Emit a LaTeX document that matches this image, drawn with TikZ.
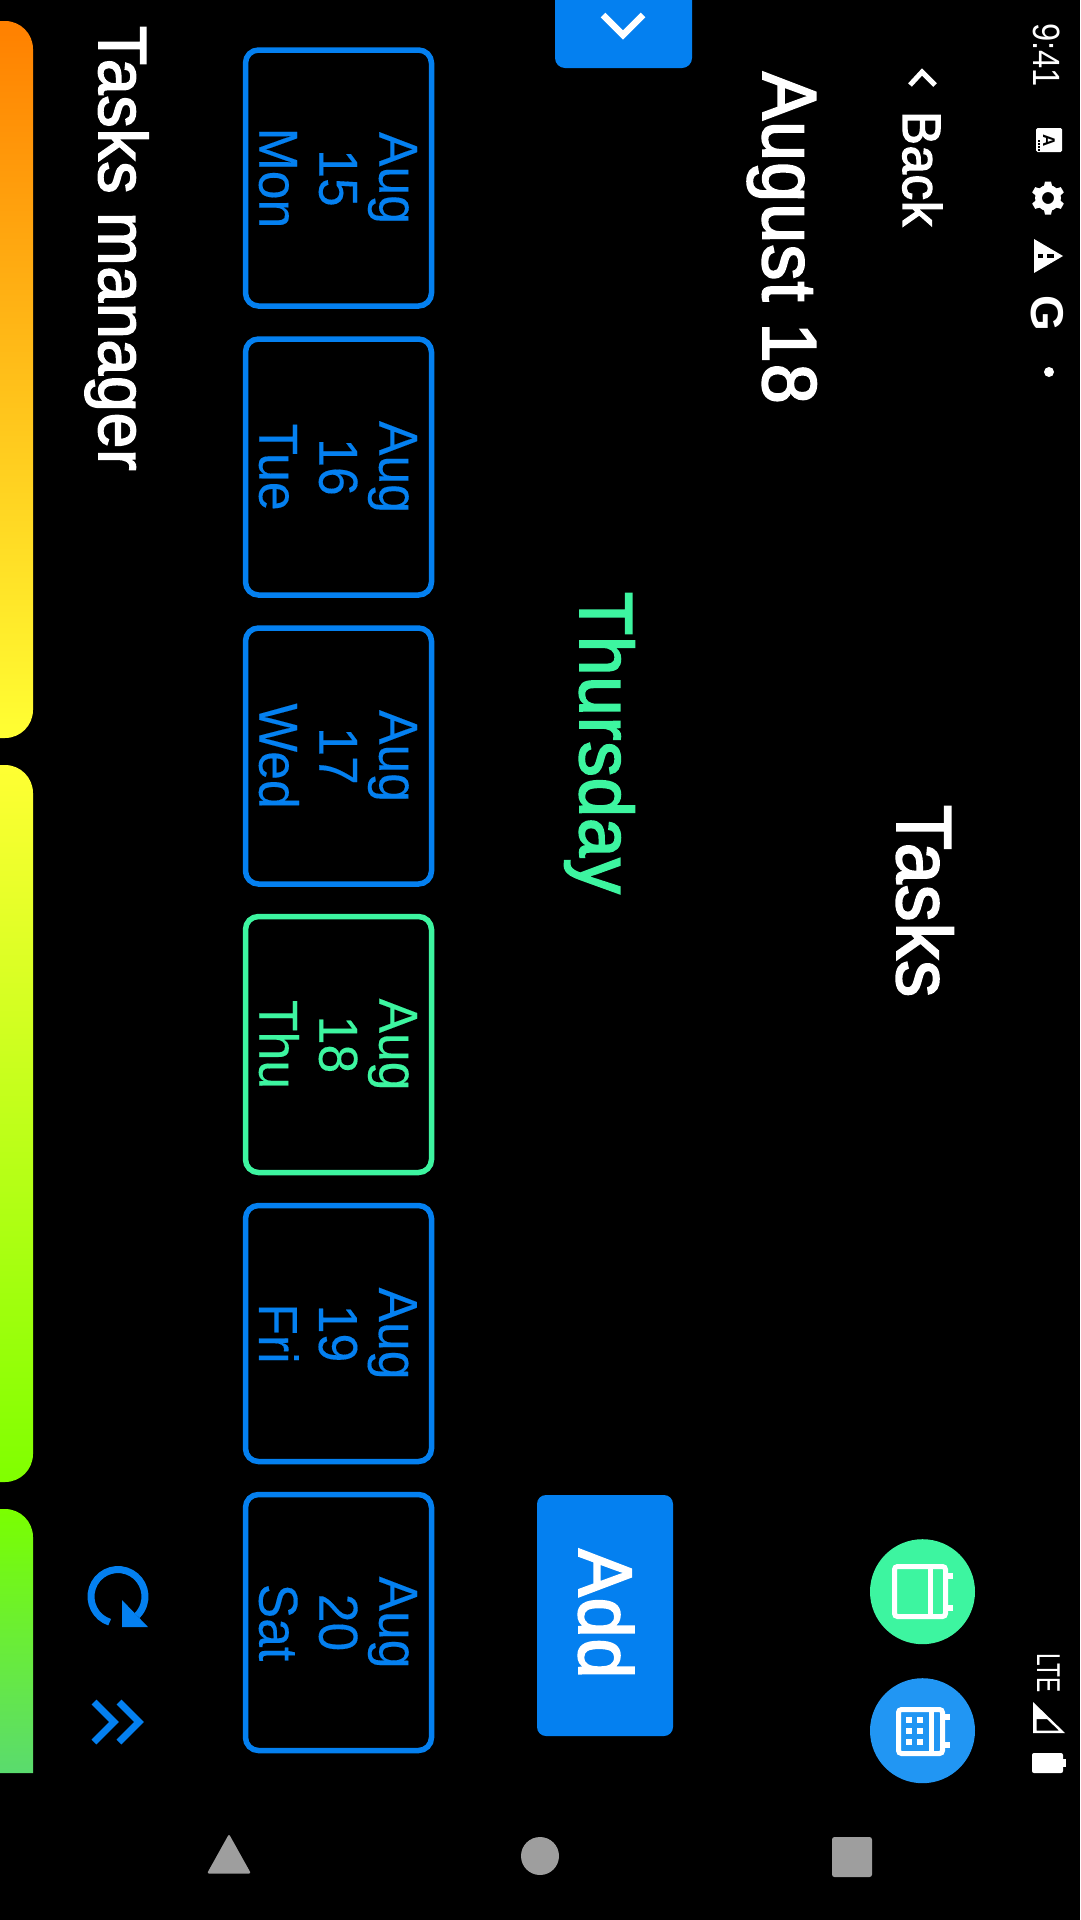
\documentclass[tikz,border=0pt]{standalone}
\usepackage{fontspec}
\usepackage{graphicx}
\setmainfont{Liberation Sans}
\newfontfamily\medfont[FakeBold=2.4,FakeStretch=0.94,LetterSpace=1.5]{Liberation Sans}
\newfontfamily\cardfont[FakeBold=0.2,FakeStretch=0.94]{Liberation Sans}
\definecolor{uiblue}{HTML}{0480F0}
\definecolor{uigreen}{HTML}{3DF5A0}
\definecolor{fabblue}{HTML}{2196F3}
\definecolor{navgray}{HTML}{9E9E9E}
\newcommand{\cardlines}[3]{\rule{0pt}{39pt}#1\\#2\\#3}
\tikzset{
  x=1pt,y=-1pt,
  vtext/.style={rotate=-90,anchor=base west,inner sep=0pt,outer sep=0pt},
  daycard/.style={rotate=-90,draw=#1,text=#1,line width=5.5pt,rounded corners=13pt,
    minimum width=256pt,minimum height=186pt,inner sep=0pt,align=center,
    font=\cardfont\fontsize{55}{60}\selectfont},
  iconline/.style={draw=white,line width=5pt,rounded corners=3pt},
  chev/.style={line width=#1,line join=miter,line cap=butt},
}
\begin{document}
\begin{tikzpicture}
\useasboundingbox (0,0) rectangle (1080,1920);
\fill[black] (0,0) rectangle (1080,1920);

% gradient bars
\shade[top color={rgb,255:red,255;green,128;blue,0},bottom color={rgb,255:red,255;green,255;blue,51},rounded corners=28pt]
  (0,21) -- (33,21) -- (33,738) -- (0,738);
\shade[top color={rgb,255:red,255;green,255;blue,51},bottom color={rgb,255:red,128;green,255;blue,0},rounded corners=28pt]
  (0,765) -- (33,765) -- (33,1482) -- (0,1482);
\shade[top color={rgb,255:red,122;green,255;blue,0},bottom color={rgb,255:red,90;green,219;blue,110},rounded corners=28pt]
  (0,1509) -- (33,1509) [sharp corners] -- (33,1773) -- (0,1773);

% left column
\node[vtext,text=white,font=\medfont\fontsize{68}{70}\selectfont] (title) at (99,26) {Tasks manager};

% refresh icon
\coordinate (rc) at (118,1596.5);
\draw[uiblue,line width=7pt] (rc) ++(108:27) arc (108:405:27);
\fill[uiblue] (122,1600) -- (148,1627) -- (122,1627) -- cycle;
% double chevron
\draw[uiblue,chev=7pt] (94,1702) -- (114,1722) -- (94,1742);
\draw[uiblue,chev=7pt] (119,1702) -- (139,1722) -- (119,1742);

% day cards
\node[daycard=uiblue] (c1) at (338.5,178) {\cardlines{Aug}{15}{Mon}};
\node[daycard=uiblue] (c2) at (338.5,467) {\cardlines{Aug}{16}{Tue}};
\node[daycard=uiblue] (c3) at (338.5,756) {\cardlines{Aug}{17}{Wed}};
\node[daycard=uigreen] (c4) at (338.5,1044.5) {\cardlines{Aug}{18}{Thu}};
\node[daycard=uiblue] (c5) at (338.5,1333.5) {\cardlines{Aug}{19}{Fri}};
\node[daycard=uiblue] (c6) at (338.5,1622.5) {\cardlines{Aug}{20}{Sat}};

% top tab
\fill[uiblue,rounded corners=10pt] (555,-20) rectangle (692,68);
\draw[white,chev=6.5pt] (603,15) -- (623,35) -- (643,15);

% main labels
\node[vtext,text=uigreen,font=\medfont\fontsize{75}{80}\selectfont] (day) at (580,592) {Thursday};
\node[vtext,text=white,font=\medfont\fontsize{76.5}{80}\selectfont] (date) at (763,72) {August 18};
\node[vtext,text=white,font=\medfont\fontsize{54}{60}\selectfont] (back) at (903,111) {Back};
\node[vtext,text=white,font=\medfont\fontsize{78}{80}\selectfont] (tasks) at (897,805) {Tasks};
\draw[white,chev=5pt] (910,85) -- (922,72) -- (935,85);

% add button
\fill[uiblue,rounded corners=9pt] (537,1495) rectangle (673,1736);
\node[vtext,text=white,font=\medfont\fontsize{76}{80}\selectfont] (add) at (579,1549) {Add};

% round buttons
\fill[uigreen] (922.5,1591.7) circle (52.5);
\fill[fabblue] (922.5,1730.7) circle (52.5);
\draw[iconline] (894.5,1566.5) rectangle (945.5,1616.5);
\draw[white,line width=5pt] (930.5,1566.5) -- (930.5,1616.5);
\fill[white] (948,1573) rectangle (953,1579);
\fill[white] (948,1605) rectangle (953,1611);
\draw[iconline] (898.5,1709.5) rectangle (942.5,1753.5);
\draw[white,line width=5pt] (931,1709.5) -- (931,1753.5);
\fill[white] (945,1714) rectangle (950,1720);
\fill[white] (945,1742) rectangle (950,1748);
\foreach \gx in {909,920} \foreach \gy in {1720,1731,1742}
  \fill[white] (\gx-3,\gy-3) rectangle (\gx+3,\gy+3);

% status bar
\node[vtext,text=white] (clock) at (1033,23) {\fontsize{38}{40}\selectfont\scalebox{0.86}[1]{9:41}};
\fill[white,rounded corners=1.5pt] (1036,128) rectangle (1062,152);
\node[vtext,text=black,font=\bfseries\fontsize{17}{18}\selectfont] (aicon) at (1043,134) {A};
\foreach \dy in {141,144,147,150} \fill[black] (1037.5,\dy-0.8) rectangle (1039.5,\dy+0.8);
% gear
\foreach \a in {0,60,...,300}
  \fill[white,shift={(1048,198)},rotate=\a] (-4.5,10) -- (-3,16.5) -- (3,16.5) -- (4.5,10) -- cycle;
\fill[white,even odd rule] (1048,198) circle (13) (1048,198) circle (6);
% warning triangle
\fill[white] (1063,256) -- (1034,239) -- (1034,273) -- cycle;
\fill[black] (1047,254) rectangle (1054,258);
\fill[black] (1038,254) rectangle (1043,258);
% G
\node[vtext,text=white,font=\bfseries\fontsize{46}{46}\selectfont] (gicon) at (1031,295) {G};
\fill[white] (1049,372) circle (5);

% LTE, signal, battery
\node[vtext,text=white] (lte) at (1037,1653) {\fontsize{33}{34}\selectfont\scalebox{0.69}[1]{LTE}};
\fill[white,even odd rule] (1033,1702) -- (1065,1733) -- (1033,1733) -- cycle
  (1036.5,1719) -- (1047,1719) -- (1059,1730.5) -- (1036.5,1730.5) -- cycle;
\fill[white,rounded corners=2pt] (1032,1753) rectangle (1063,1773);
\fill[white] (1062,1759) rectangle (1066,1767);

% navigation bar
\fill[navgray,rounded corners=2pt] (229,1834) -- (251,1873.5) -- (207,1873.5) -- cycle;
\fill[navgray] (540,1856) circle (19);
\fill[navgray,rounded corners=2.5pt] (832,1837) rectangle (872,1877);
\end{tikzpicture}
\end{document}
